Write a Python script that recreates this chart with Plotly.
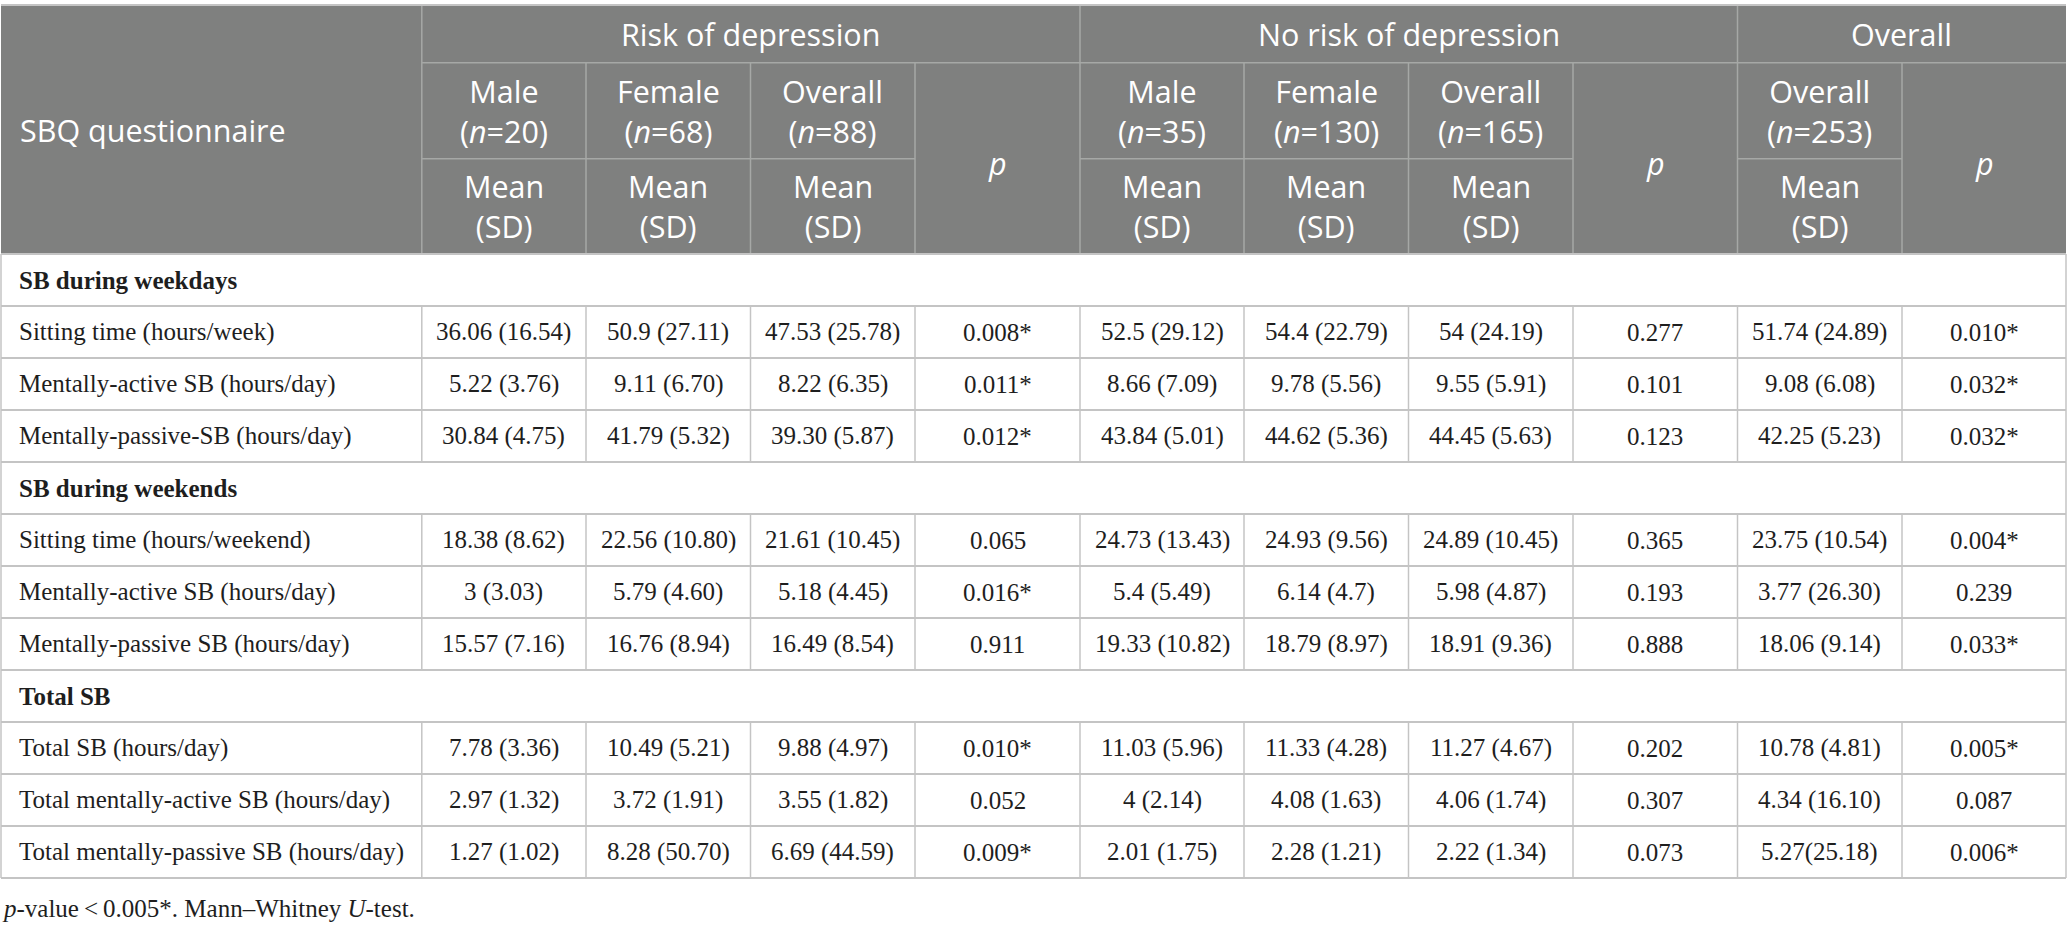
import plotly.graph_objects as go

# table data
sections = ["SB during weekdays", "SB during weekends", "Total SB"]
row_labels = [
    ["Sitting time (hours/week)", "Mentally-active SB (hours/day)", "Mentally-passive-SB (hours/day)"],
    ["Sitting time (hours/weekend)", "Mentally-active SB (hours/day)", "Mentally-passive SB (hours/day)"],
    ["Total SB (hours/day)", "Total mentally-active SB (hours/day)", "Total mentally-passive SB (hours/day)"],
]
risk_male = ["36.06 (16.54)", "5.22 (3.76)", "30.84 (4.75)", "18.38 (8.62)", "3 (3.03)", "15.57 (7.16)",
             "7.78 (3.36)", "2.97 (1.32)", "1.27 (1.02)"]
risk_female = ["50.9 (27.11)", "9.11 (6.70)", "41.79 (5.32)", "22.56 (10.80)", "5.79 (4.60)", "16.76 (8.94)",
               "10.49 (5.21)", "3.72 (1.91)", "8.28 (50.70)"]
risk_overall = ["47.53 (25.78)", "8.22 (6.35)", "39.30 (5.87)", "21.61 (10.45)", "5.18 (4.45)", "16.49 (8.54)",
                "9.88 (4.97)", "3.55 (1.82)", "6.69 (44.59)"]
risk_p = ["0.008*", "0.011*", "0.012*", "0.065", "0.016*", "0.911", "0.010*", "0.052", "0.009*"]
norisk_male = ["52.5 (29.12)", "8.66 (7.09)", "43.84 (5.01)", "24.73 (13.43)", "5.4 (5.49)", "19.33 (10.82)",
               "11.03 (5.96)", "4 (2.14)", "2.01 (1.75)"]
norisk_female = ["54.4 (22.79)", "9.78 (5.56)", "44.62 (5.36)", "24.93 (9.56)", "6.14 (4.7)", "18.79 (8.97)",
                 "11.33 (4.28)", "4.08 (1.63)", "2.28 (1.21)"]
norisk_overall = ["54 (24.19)", "9.55 (5.91)", "44.45 (5.63)", "24.89 (10.45)", "5.98 (4.87)", "18.91 (9.36)",
                  "11.27 (4.67)", "4.06 (1.74)", "2.22 (1.34)"]
norisk_p = ["0.277", "0.101", "0.123", "0.365", "0.193", "0.888", "0.202", "0.307", "0.073"]
all_overall = ["51.74 (24.89)", "9.08 (6.08)", "42.25 (5.23)", "23.75 (10.54)", "3.77 (26.30)", "18.06 (9.14)",
               "10.78 (4.81)", "4.34 (16.10)", "5.27(25.18)"]
all_p = ["0.010*", "0.032*", "0.032*", "0.004*", "0.239", "0.033*", "0.005*", "0.087", "0.006*"]

groups = ["Risk of depression", "No risk of depression", "Overall"]
sub_names = ["Male", "Female", "Overall", None, "Male", "Female", "Overall", None, "Overall", None]
sub_n = [20, 68, 88, None, 35, 130, 165, None, 253, None]
footnote = "<i>p</i>-value\u2009<\u20090.005*. Mann\u2013Whitney <i>U</i>-test."

columns = [risk_male, risk_female, risk_overall, risk_p, norisk_male, norisk_female,
           norisk_overall, norisk_p, all_overall, all_p]

# layout geometry (pixels)
W, H = 2067, 932
xs = [1, 421.8, 586, 750.5, 915, 1080, 1244, 1408.5, 1573, 1737.5, 1902, 2066]
group_span = [(1, 5), (5, 9), (9, 11)]
h_top, h_r1, h_r2, h_bot = 5, 62.7, 158.7, 254
row_h = 52

HEAD = "#7f807f"
HEAD_LINE = "#a6a8a6"
GRID = "#c4c4c4"
TXT = "#1e1e1e"
sans = "Open Sans"
serif = "Liberation Serif"
HS = 30.5  # header font size
BS = 25    # body font size

shapes = []
ann = []


def line(x0, y0, x1, y1, color, w):
    shapes.append(dict(type="line", xref="x", yref="y", x0=x0, y0=y0, x1=x1, y1=y1,
                       line=dict(color=color, width=w), layer="above"))


def text(x, y, s, size, color, font, xanchor="center", bold=False):
    if bold:
        s = "<b>" + s + "</b>"
    ann.append(dict(x=x, y=y, xref="x", yref="y", text=s, showarrow=False, xanchor=xanchor,
                    yanchor="middle", align="center" if xanchor == "center" else "left",
                    font=dict(family=font, size=size, color=color)))


# header
shapes.append(dict(type="rect", xref="x", yref="y", x0=xs[0], y0=h_top, x1=xs[-1], y1=h_bot,
                   fillcolor=HEAD, line=dict(width=0), layer="below"))
text(18, (h_top + h_bot) / 2, "SBQ questionnaire", HS, "white", sans, xanchor="left")
line(xs[1], h_r1, xs[-1], h_r1, HEAD_LINE, 1.5)
for g, (a, b) in zip(groups, group_span):
    text((xs[a] + xs[b]) / 2, (h_top + h_r1) / 2, g, HS, "white", sans)
    line(xs[a], h_top, xs[a], h_bot, HEAD_LINE, 1.5)
for i, (name, n) in enumerate(zip(sub_names, sub_n)):
    cx = (xs[i + 1] + xs[i + 2]) / 2
    if i + 1 not in (1, 5, 9):
        line(xs[i + 1], h_r1, xs[i + 1], h_bot, HEAD_LINE, 1.5)
    if name is None:
        text(cx, (h_r1 + h_bot) / 2 + 5, "<i>p</i>", HS, "white", sans)
    else:
        line(xs[i + 1], h_r2, xs[i + 2], h_r2, HEAD_LINE, 1.5)
        text(cx, (h_r1 + h_r2) / 2, "%s<br>(<i>n</i>=%d)" % (name, n), HS, "white", sans)
        text(cx, (h_r2 + h_bot) / 2, "Mean<br>(SD)", HS, "white", sans)
line(xs[0], h_top, xs[-1], h_top, GRID, 2)

# body
y = h_bot
k = 0
for sec, labels in zip(sections, row_labels):
    text(17, y + row_h / 2, sec, BS, TXT, serif, xanchor="left", bold=True)
    line(xs[0], y, xs[0], y + row_h, GRID, 1.5)
    line(xs[-1], y, xs[-1], y + row_h, GRID, 1.5)
    line(xs[0], y + row_h, xs[-1], y + row_h, GRID, 2)
    y += row_h
    for lab in labels:
        text(17, y + row_h / 2, lab, BS, TXT, serif, xanchor="left")
        for j, col in enumerate(columns):
            text((xs[j + 1] + xs[j + 2]) / 2, y + row_h / 2, col[k], BS, TXT, serif)
        for xv in xs:
            line(xv, y, xv, y + row_h, GRID, 1.5)
        line(xs[0], y + row_h, xs[-1], y + row_h, GRID, 2)
        y += row_h
        k += 1
line(xs[0], h_bot, xs[-1], h_bot, GRID, 2)

text(0, 908, footnote, BS, TXT, serif, xanchor="left")

fig = go.Figure()
fig.update_layout(
    width=W, height=H, margin=dict(l=0, r=0, t=0, b=0),
    paper_bgcolor="white", plot_bgcolor="white",
    xaxis=dict(range=[0, W], visible=False, fixedrange=True),
    yaxis=dict(range=[H, 0], visible=False, fixedrange=True),
    shapes=shapes, annotations=ann, showlegend=False,
)
fig.write_html("out.html", config={"displayModeBar": False},
               post_script="document.body.style.margin='0';document.body.style.overflow='hidden';")
